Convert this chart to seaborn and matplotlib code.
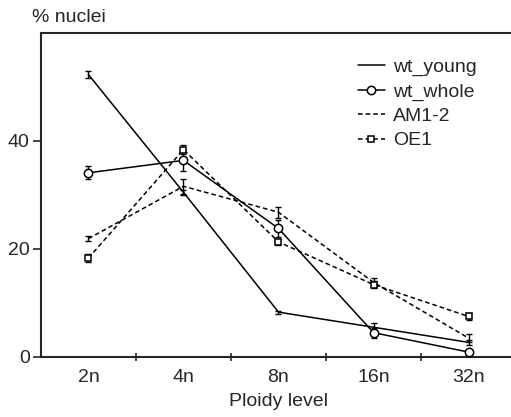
import numpy as np
import pandas as pd
import matplotlib
matplotlib.use("Agg")
import matplotlib.pyplot as plt
import seaborn as sns

# Data
ploidy = ["2n", "4n", "8n", "16n", "32n"]
wt_young = [52.3, 30.5, 8.3, 5.5, 2.7]
wt_young_err = [0.7, 0.5, 0.3, 0.8, 0.5]
wt_whole = [34.1, 36.4, 23.8, 4.5, 0.9]
wt_whole_err = [1.2, 2.0, 1.5, 0.9, 0.4]
am1_2 = [21.9, 31.6, 26.8, 13.8, 3.5]
am1_2_err = [0.5, 1.4, 1.0, 0.9, 0.7]
oe1 = [18.3, 38.4, 21.3, 13.4, 7.5]
oe1_err = [0.8, 0.9, 0.6, 0.7, 0.6]

series_names = ["wt_young", "wt_whole", "AM1-2", "OE1"]
series_vals = [wt_young, wt_whole, am1_2, oe1]
series_errs = [wt_young_err, wt_whole_err, am1_2_err, oe1_err]

FONTSIZE = 14

sns.set_style("ticks")
plt.rcParams["font.family"] = ["Liberation Sans", "DejaVu Sans"]
plt.rcParams["font.size"] = FONTSIZE

df = pd.DataFrame(
    {
        "x": np.tile(np.arange(len(ploidy)), len(series_names)),
        "y": np.concatenate(series_vals),
        "err": np.concatenate(series_errs),
        "series": np.repeat(series_names, len(ploidy)),
    }
)

styles = {
    "wt_young": dict(ls="-", marker=None, ms=0),
    "wt_whole": dict(ls="-", marker="o", ms=6),
    "AM1-2": dict(ls=(0, (3, 2)), marker=None, ms=0),
    "OE1": dict(ls=(0, (3, 2)), marker="s", ms=5),
}

fig = plt.figure(figsize=(5.11, 4.17), dpi=100)
ax = fig.add_axes([0.080, 0.144, 0.93, 0.777])

for name in series_names:
    sub = df[df["series"] == name]
    st = styles[name]
    ax.errorbar(
        sub["x"], sub["y"], yerr=sub["err"], fmt="none", ecolor="black",
        elinewidth=1.0, capsize=2.5, capthick=1.0, zorder=2,
    )
    sns.lineplot(
        data=sub, x="x", y="y", ax=ax, color="black", linewidth=1.1,
        linestyle=st["ls"], marker=st["marker"], markersize=st["ms"],
        markerfacecolor="white", markeredgecolor="black", markeredgewidth=1.1,
        label=name, zorder=3,
    )

ax.set_xlim(-0.5, 4.5)
ax.set_ylim(0, 60)
ax.set_xticks(range(len(ploidy)))
ax.set_xticklabels(ploidy)
ax.set_xticks([0.5, 1.5, 2.5, 3.5], minor=True)
ax.tick_params(axis="x", which="major", length=0, pad=9)
ax.tick_params(axis="x", which="minor", direction="inout", length=6, width=1.2)
ax.set_yticks([0, 20, 40])
ax.tick_params(axis="y", direction="out", length=6, width=1.2, pad=2)
ax.tick_params(labelsize=FONTSIZE)

for s in ["left", "bottom", "top"]:
    ax.spines[s].set_linewidth(1.5)
ax.spines["right"].set_visible(False)

ax.set_xlabel("Ploidy level", fontsize=FONTSIZE, labelpad=5)
ax.set_ylabel("")
fig.text(32 / 511, 1 - 18 / 417, "% nuclei", fontsize=FONTSIZE, va="center", ha="left")

leg = ax.legend(
    loc="upper left", bbox_to_anchor=(0.63, 0.976), frameon=False, fontsize=FONTSIZE,
    handlelength=1.4, handletextpad=0.4, labelspacing=0.35,
)

fig.savefig("out.png", dpi=100)
